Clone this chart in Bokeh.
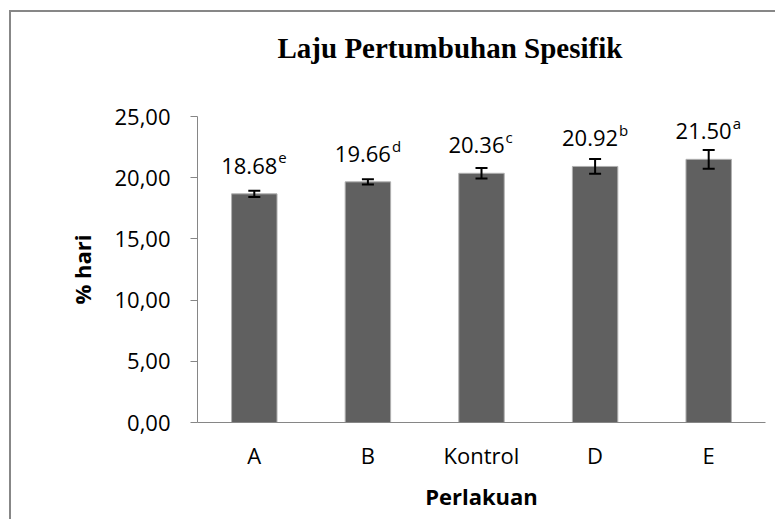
from bokeh.plotting import figure
from bokeh.models import ColumnDataSource, Whisker, TeeHead, Title, Range1d, FixedTicker, InlineStyleSheet
from bokeh.core.properties import value
from bokeh.embed import file_html
from bokeh.resources import INLINE

categories = ["A", "B", "Kontrol", "D", "E"]
values = [18.68, 19.66, 20.36, 20.92, 21.50]
errors = [0.25, 0.22, 0.43, 0.60, 0.76]
letters = ["e", "d", "c", "b", "a"]
y_ticks = [0, 5, 10, 15, 20, 25]
y_tick_labels = ["0,00", "5,00", "10,00", "15,00", "20,00", "25,00"]
title_text = "Laju Pertumbuhan  Spesifik"

num_labels = ["%.2f" % v for v in values]
src = ColumnDataSource(dict(
    x=categories, top=values,
    upper=[v + e for v, e in zip(values, errors)],
    lower=[v - e for v, e in zip(values, errors)],
    num=num_labels, sup=letters,
))

FONT = "Open Sans"
GRAY = "#868686"

border_css = InlineStyleSheet(css="""
:host { position: relative; }
:host::after {
  content: "";
  position: absolute;
  left: 9px; top: 10px; right: 0px; bottom: 0px;
  border-top: 2px solid #878787;
  border-left: 2px solid #878787;
  pointer-events: none;
  z-index: 10;
}
""")

p = figure(x_range=categories, y_range=Range1d(0, 25), width=775, height=519,
           output_backend="svg", toolbar_location=None,
           min_border_left=197, min_border_right=10, min_border_top=116, min_border_bottom=97,
           stylesheets=[border_css])
p.outline_line_color = None
p.grid.visible = False
p.background_fill_color = "white"
p.border_fill_color = "white"

p.vbar(x="x", top="top", width=0.4, bottom=0, source=src,
       fill_color="#606060", line_color="#b0b0b0", line_width=1)

w = Whisker(base="x", upper="upper", lower="lower", source=src,
            line_color="black", line_width=2, level="overlay",
            upper_head=TeeHead(size=12, line_color="black", line_width=2),
            lower_head=TeeHead(size=12, line_color="black", line_width=2))
p.add_layout(w)

p.text(x="x", y="top", text="num", source=src, text_align="right",
       text_baseline="alphabetic", x_offset=23, y_offset=-28,
       text_font=value(FONT), text_font_size="22px", text_color="black")
p.text(x="x", y="top", text="sup", source=src, text_align="left",
       text_baseline="alphabetic", x_offset=24, y_offset=-36,
       text_font=value(FONT), text_font_size="15px", text_color="black")

# axes
p.yaxis.ticker = FixedTicker(ticks=y_ticks)
p.yaxis.major_label_overrides = {t: l for t, l in zip(y_ticks, y_tick_labels)}
p.yaxis.axis_line_color = GRAY
p.yaxis.major_tick_line_color = GRAY
p.yaxis.major_tick_out = 7
p.yaxis.major_tick_in = 0
p.yaxis.minor_tick_line_color = None
p.yaxis.major_label_standoff = 20
p.yaxis.major_label_text_font = FONT
p.yaxis.major_label_text_font_size = "22px"
p.yaxis.major_label_text_color = "black"
p.yaxis.axis_label = "% hari"
p.yaxis.axis_label_text_font = FONT
p.yaxis.axis_label_text_font_style = "bold"
p.yaxis.axis_label_text_font_size = "22px"
p.yaxis.axis_label_text_color = "black"
p.yaxis.axis_label_standoff = 14

p.xaxis.axis_line_color = GRAY
p.xaxis.major_tick_line_color = None
p.xaxis.minor_tick_line_color = None
p.xaxis.major_label_standoff = 11
p.xaxis.major_label_text_font = FONT
p.xaxis.major_label_text_font_size = "22px"
p.xaxis.major_label_text_color = "black"
p.xaxis.axis_label = "Perlakuan"
p.xaxis.axis_label_text_font = FONT
p.xaxis.axis_label_text_font_style = "bold"
p.xaxis.axis_label_text_font_size = "22px"
p.xaxis.axis_label_text_color = "black"
p.xaxis.axis_label_standoff = 8

# spacer between plot area and title, then the title itself
spacer = Title(text=" ", text_font_size="1px", standoff=50)
p.add_layout(spacer, "above")
t = Title(text=title_text, align="left", offset=80, standoff=0,
          text_font="Liberation Serif", text_font_style="bold",
          text_font_size="29px", text_color="black")
p.add_layout(t, "above")

open("out.html", "w").write(file_html(p, INLINE))
